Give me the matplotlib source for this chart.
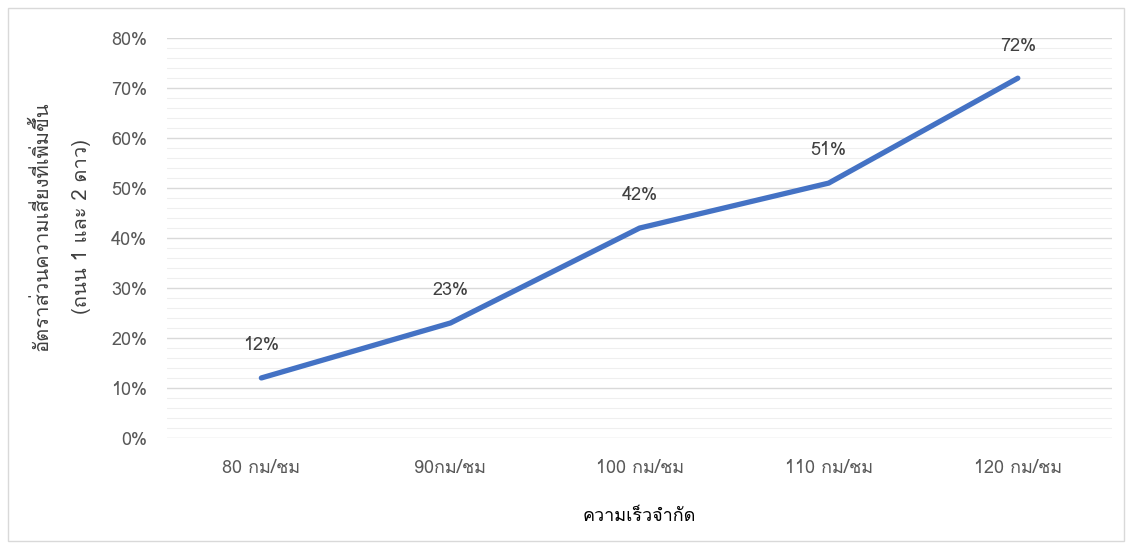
import matplotlib
matplotlib.use('Agg')
import matplotlib.pyplot as plt
from matplotlib import font_manager
from matplotlib.ft2font import FT2Font
from matplotlib.ticker import MultipleLocator, PercentFormatter
from matplotlib.patches import Rectangle

# data
speeds = ['80 กม/ชม', '90กม/ชม', '100 กม/ชม', '110 กม/ชม', '120 กม/ชม']
risk = [12, 23, 42, 51, 72]
xlabel = 'ความเร็วจำกัด'
ylabel = 'อัตราส่วนความเสี่ยงที่เพิ่มขึ้น\n(ถนน 1 และ 2 ดาว)'

def thai_fonts():
    found = []
    for f in font_manager.fontManager.ttflist:
        try:
            cm = FT2Font(f.fname).get_charmap()
        except Exception:
            continue
        if 0x0E01 in cm and f.name not in found:
            found.append(f.name)
    return found

th = thai_fonts()
plt.rcParams['font.family'] = th[:1] + ['DejaVu Sans']

fig = plt.figure(figsize=(11.27, 5.46), dpi=100)
ax = fig.add_axes([0.148, 0.198, 0.839, 0.732])

x = range(len(speeds))
ax.plot(x, risk, color='#4472C4', linewidth=3.8, solid_capstyle='round')
for i, v in enumerate(risk):
    ax.annotate(f'{v}%', (i, v), xytext=(0, 17), textcoords='offset points',
                ha='center', va='bottom', fontsize=13, color='#404040')

ax.set_xlim(-0.5, len(speeds) - 0.5)
ax.set_ylim(0, 80)
ax.yaxis.set_major_locator(MultipleLocator(10))
ax.yaxis.set_minor_locator(MultipleLocator(2))
ax.yaxis.set_major_formatter(PercentFormatter(decimals=0))
ax.grid(which='major', axis='y', color='#d9d9d9', linewidth=1.0)
ax.grid(which='minor', axis='y', color='#efefef', linewidth=0.8)
ax.set_axisbelow(True)
for s in ax.spines.values():
    s.set_visible(False)
ax.tick_params(axis='both', which='both', length=0, colors='#595959', labelsize=13)
ax.tick_params(axis='y', pad=14)
ax.tick_params(axis='x', pad=15)
ax.set_xticks(list(x))
ax.set_xticklabels(speeds)

ax.set_xlabel(xlabel, fontsize=13, color='black', labelpad=22)
ax.set_ylabel(ylabel, fontsize=14.5, color='#404040', linespacing=2.35)
ax.yaxis.set_label_coords(-0.080, 0.53)

fig.patches.append(Rectangle((0.007, 0.01), 0.99, 0.975, transform=fig.transFigure,
                             fill=False, edgecolor='#d9d9d9', linewidth=1))

fig.savefig('out.png', dpi=100)
